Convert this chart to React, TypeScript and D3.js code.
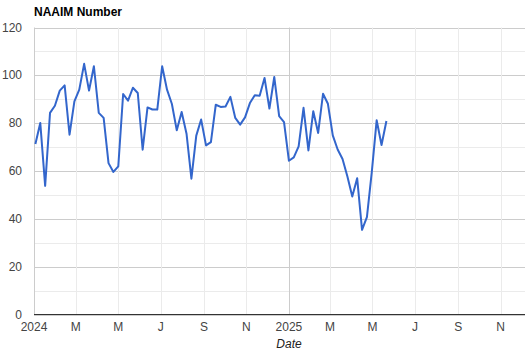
import * as d3 from 'd3';

// weekly NAAIM readings, first one on Wed 3 Jan 2024
const startDate = new Date(2024, 0, 3);
const naaimValues = [
  71.3, 80.1, 53.8, 84.3, 87.3, 93.6, 95.8, 75.2, 89.1, 94.0,
  104.8, 93.6, 103.8, 84.3, 82.2, 63.3, 59.6, 61.9, 92.2, 89.4,
  94.8, 92.6, 68.9, 86.6, 85.7, 85.7, 103.8, 94.0, 88.0, 77.0,
  84.7, 75.6, 56.8, 74.8, 81.5, 70.7, 72.1, 87.7, 86.8, 87.0,
  91.0, 82.2, 79.4, 82.4, 88.4, 91.7, 91.5, 98.9, 86.1, 99.3,
  82.9, 80.4, 64.3, 65.7, 70.3, 86.4, 68.6, 85.0, 75.9, 92.3,
  88.1, 74.9, 69.0, 65.0, 57.7, 49.3, 57.0, 35.4, 40.7, 59.5,
  81.2, 70.9, 80.9,
];

const xTickDates = [
  new Date(2024, 0, 1), new Date(2024, 2, 1), new Date(2024, 4, 1),
  new Date(2024, 6, 1), new Date(2024, 8, 1), new Date(2024, 10, 1),
  new Date(2025, 0, 1), new Date(2025, 2, 1), new Date(2025, 4, 1),
  new Date(2025, 6, 1), new Date(2025, 8, 1), new Date(2025, 10, 1),
];
const xTickLabels = ['2024', 'M', 'M', 'J', 'S', 'N', '2025', 'M', 'M', 'J', 'S', 'N'];
const yTicks = [0, 10, 20, 30, 40, 50, 60, 70, 80, 90, 100, 110, 120];

const W = 528;
const H = 353;
const font = "Arial, 'Liberation Sans', sans-serif";

export default function App() {
  const points = naaimValues.map((v, i) => ({ date: d3.timeWeek.offset(startDate, i), value: v }));

  const x = d3.scaleTime()
    .domain([new Date(2024, 0, 1), new Date(2025, 11, 6)])
    .range([34, 525]);
  const y = d3.scaleLinear().domain([0, 120]).range([314.5, 27.5]);

  const line = d3.line<{ date: Date; value: number }>()
    .x(d => x(d.date))
    .y(d => y(d.value));

  return (
    <div style={{ position: 'absolute', left: 0, top: 0 }}>
      <svg width={W} height={H} style={{ display: 'block', fontFamily: font }}>
        <rect width={W} height={H} fill="#fff" />
        <text x={34} y={16} fontSize={12} fontWeight="bold" fill="#000">NAAIM Number</text>

        {yTicks.map(t => (
          <line key={'h' + t} x1={34} x2={525} y1={Math.round(y(t)) + 0.5} y2={Math.round(y(t)) + 0.5}
            stroke={t % 20 === 0 ? '#cccccc' : '#ebebeb'} strokeWidth={1} />
        ))}
        {xTickDates.map((d, i) => (
          <line key={'v' + i} x1={Math.round(x(d)) + 0.5} x2={Math.round(x(d)) + 0.5} y1={27.5} y2={314}
            stroke={d.getMonth() === 0 ? '#cccccc' : '#ebebeb'} strokeWidth={1} />
        ))}

        <line x1={34} x2={525} y1={314.5} y2={314.5} stroke="#333" strokeWidth={1} />

        <path d={line(points) ?? ''} fill="none" stroke="#3366cc" strokeWidth={2} strokeLinejoin="round" />

        {yTicks.filter(t => t % 20 === 0).map(t => (
          <text key={'yl' + t} x={22} y={y(t) + 4} textAnchor="end" fontSize={12} fill="#444">{t}</text>
        ))}
        {xTickDates.map((d, i) => (
          <text key={'xl' + i} x={x(d)} y={331} textAnchor="middle" fontSize={12} fill="#444">{xTickLabels[i]}</text>
        ))}
        <text x={289} y={348} textAnchor="middle" fontSize={12} fontStyle="italic" fill="#222">Date</text>
      </svg>
    </div>
  );
}
